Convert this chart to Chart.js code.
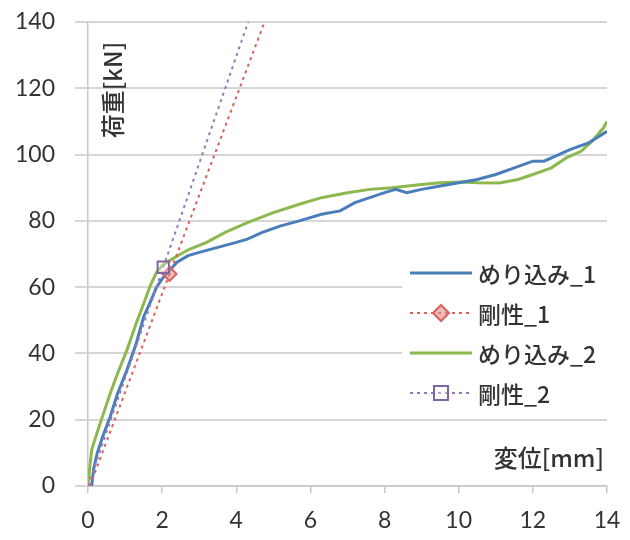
<!DOCTYPE html>
<html>
<head>
<meta charset="utf-8">
<script src="https://cdn.jsdelivr.net/npm/chart.js@4.4.1/dist/chart.umd.min.js"></script>
<style>
  html, body { margin: 0; padding: 0; background: #fff; }
  canvas { display: block; }
</style>
</head>
<body>
<canvas id="chart" width="630" height="540"></canvas>
<script>
// 変位[mm] / 荷重[kN]
const disp1 = [0.1, 0.15, 0.25, 0.4, 0.6, 0.8, 1.05, 1.3, 1.5, 1.7, 1.85, 2.0, 2.2, 2.4, 2.7, 3.0, 3.5, 4.0, 4.3, 4.7, 5.2, 5.7, 6.3, 6.8, 7.2, 7.6, 8.0, 8.3, 8.6, 9.0, 9.5, 10.0, 10.5, 11.0, 11.5, 12.0, 12.3, 12.7, 13.0, 13.5, 14.0];
const load1 = [0, 5, 10, 15, 21, 28, 35, 43, 51, 56, 60, 62.5, 65, 67.5, 69.5, 70.5, 72, 73.5, 74.5, 76.5, 78.5, 80, 82, 83, 85.5, 87, 88.5, 89.5, 88.5, 89.5, 90.5, 91.5, 92.5, 94, 96, 98, 98, 100, 101.5, 103.5, 107];

const disp2 = [0, 0.05, 0.1, 0.3, 0.6, 0.8, 1.05, 1.3, 1.5, 1.7, 1.85, 2.0, 2.2, 2.5, 2.75, 3.2, 3.7, 4.3, 5.0, 5.7, 6.3, 7.0, 7.6, 8.2, 9.0, 9.5, 10.1, 10.5, 11.1, 11.6, 12.0, 12.5, 12.9, 13.3, 13.6, 13.9, 14.0];
const load2 = [0, 6, 11, 18, 28, 34, 41, 49, 55, 61, 64.5, 66.5, 68, 70, 71.5, 73.5, 76.5, 79.5, 82.5, 85, 87, 88.5, 89.5, 90, 91, 91.5, 91.7, 91.5, 91.4, 92.5, 94, 96, 99, 101, 104, 108, 110];

// 剛性 lines (start, marker, end beyond the top of the axis)
const stiff1X = [0.05, 2.2, 5.1];
const stiff1Y = [0, 64, 150];
const stiff2X = [0, 2.03, 4.63];
const stiff2Y = [0, 66, 150];

const seriesNames = ['めり込み_1', '剛性_1', 'めり込み_2', '剛性_2'];
const xTicks = [0, 2, 4, 6, 8, 10, 12, 14];
const yTicks = [0, 20, 40, 60, 80, 100, 120, 140];

const toPts = (xs, ys) => xs.map((x, i) => ({ x: x, y: ys[i] }));

const textColor = '#333333';
const numFont = { family: 'Lato, "Open Sans", sans-serif', size: 23 };

// 凡例とタイトルをプロット内に描く
const overlay = {
  id: 'overlay',
  afterDatasetsDraw(chart) {
    const ctx = chart.ctx;
    ctx.save();
    ctx.fillStyle = '#fff';
    ctx.fillRect(402, 252, 210, 160);
    ctx.font = '500 23px "Noto Sans CJK JP", sans-serif';
    ctx.textBaseline = 'middle';
    chart.data.datasets.forEach((ds, i) => {
      const y = 273 + i * 40;
      ctx.strokeStyle = ds.borderColor;
      ctx.lineWidth = ds.borderWidth;
      ctx.setLineDash(ds.borderDash || []);
      ctx.beginPath();
      ctx.moveTo(410, y);
      ctx.lineTo(472, y);
      ctx.stroke();
      ctx.setLineDash([]);
      if (ds.legendMarker) {
        ctx.fillStyle = ds.pointBackgroundColor;
        ctx.strokeStyle = ds.pointBorderColor;
        ctx.lineWidth = 2;
        ctx.beginPath();
        if (ds.legendMarker === 'diamond') {
          ctx.moveTo(441, y - 8); ctx.lineTo(449, y); ctx.lineTo(441, y + 8); ctx.lineTo(433, y);
          ctx.closePath();
        } else {
          ctx.rect(434, y - 7, 14, 14);
        }
        ctx.fill();
        ctx.stroke();
      }
      ctx.fillStyle = textColor;
      ctx.textAlign = 'left';
      ctx.fillText(ds.label, 478, y + 1);
    });
    ctx.restore();
  },
  afterDraw(chart) {
    const ctx = chart.ctx;
    ctx.save();
    ctx.fillStyle = textColor;
    ctx.font = '500 24px "Noto Sans CJK JP", sans-serif';
    ctx.textBaseline = 'middle';
    ctx.textAlign = 'right';
    ctx.fillText('変位[mm]', 604, 458);
    ctx.translate(113, 90);
    ctx.rotate(-Math.PI / 2);
    ctx.textAlign = 'center';
    ctx.fillText('荷重[kN]', 0, 0);
    ctx.restore();
  }
};

new Chart(document.getElementById('chart'), {
  type: 'scatter',
  data: {
    datasets: [
      {
        label: seriesNames[0],
        data: toPts(disp1, load1),
        showLine: true,
        borderColor: '#4a7ebb',
        borderWidth: 3,
        pointRadius: 0,
        order: 2
      },
      {
        label: seriesNames[1],
        data: toPts(stiff1X, stiff1Y),
        showLine: true,
        borderColor: '#d9605c',
        borderWidth: 2,
        borderDash: [3, 4],
        pointRadius: [0, 7, 0],
        pointStyle: 'rectRot',
        pointBackgroundColor: 'rgba(230,140,138,0.6)',
        pointBorderColor: '#d9605c',
        pointBorderWidth: 2,
        legendMarker: 'diamond',
        order: 1
      },
      {
        label: seriesNames[2],
        data: toPts(disp2, load2),
        showLine: true,
        borderColor: '#8cb84e',
        borderWidth: 3,
        pointRadius: 0,
        order: 3
      },
      {
        label: seriesNames[3],
        data: toPts(stiff2X, stiff2Y),
        showLine: true,
        borderColor: '#8f7bc0',
        borderWidth: 2,
        borderDash: [3, 4],
        pointRadius: [0, 8, 0],
        pointStyle: 'rect',
        pointBackgroundColor: 'rgba(255,255,255,0.3)',
        pointBorderColor: '#8064a2',
        pointBorderWidth: 2,
        legendMarker: 'square',
        order: 0
      }
    ]
  },
  options: {
    responsive: false,
    animation: false,
    layout: { padding: { top: 22, right: 23, left: 0, bottom: 0 } },
    plugins: {
      legend: { display: false },
      tooltip: { enabled: false }
    },
    scales: {
      x: {
        type: 'linear',
        min: 0,
        max: 14,
        afterFit: (s) => { s.height = 54; s.paddingLeft = 0; s.paddingRight = 0; },
        afterBuildTicks: (s) => { s.ticks = xTicks.map(v => ({ value: v })); },
        ticks: { font: numFont, color: textColor, padding: 14, maxRotation: 0 },
        grid: { drawOnChartArea: false, drawTicks: true, tickLength: 7, color: '#c8c8c8', lineWidth: 1.5 },
        border: { display: true, color: '#c8c8c8', width: 1.5 }
      },
      y: {
        min: 0,
        max: 140,
        afterFit: (s) => { s.width = 88; s.paddingTop = 0; s.paddingBottom = 0; },
        afterBuildTicks: (s) => { s.ticks = yTicks.map(v => ({ value: v })); },
        ticks: { font: numFont, color: textColor, padding: 20 },
        grid: { color: '#d6d6d6', lineWidth: 2, tickLength: 13 },
        border: { display: true, color: '#c8c8c8', width: 1.5 }
      }
    }
  },
  plugins: [overlay]
});
</script>
</body>
</html>
